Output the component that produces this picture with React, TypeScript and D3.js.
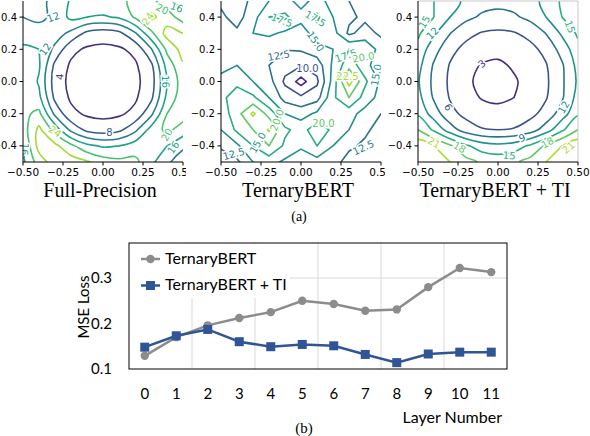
import React from 'react';
import * as d3 from 'd3';

// ---- (b) line chart data ----
const layers = [0, 1, 2, 3, 4, 5, 6, 7, 8, 9, 10, 11];
const ternaryBert = [0.129, 0.17, 0.196, 0.212, 0.225, 0.25, 0.243, 0.228, 0.231, 0.28, 0.322, 0.313];
const ternaryBertTI = [0.148, 0.173, 0.187, 0.16, 0.149, 0.154, 0.151, 0.132, 0.114, 0.133, 0.137, 0.137];
const lossTicks = [0.1, 0.2, 0.3];
const lossGrid = [0.3];
const layerGrid = [1.5, 3.5, 5.5, 7.5, 9.5];

// ---- (a) loss surfaces, rows from y=0.5 (top) to y=-0.5, cols x=-0.5..0.5 ----
const surfaceTicks = [-0.5, -0.25, 0, 0.25, 0.5];
const surfaceYTicks = [-0.4, -0.2, 0, 0.2, 0.4];

const fullPrecision = [
  [10, 11, 13, 16.5, 18.5, 19.5, 19.5, 20.5, 21, 18, 13],
  [12, 11, 13, 17, 16, 15.5, 16.5, 20.5, 25, 22, 18],
  [13.5, 14, 14, 11, 7, 6, 7, 11.5, 19, 25.5, 24],
  [17, 16, 11, 5, 3.4, 3, 3.4, 5, 11.5, 21, 25.5],
  [19, 16.5, 7, 3.4, 2.3, 2, 2.3, 3.4, 7, 17.5, 23.5],
  [20, 15.5, 6, 3, 2, 1.5, 2, 3, 6, 16, 22],
  [19.5, 17, 7, 3.4, 2.3, 2, 2.3, 3.4, 7, 17, 22.5],
  [19, 21, 11, 5, 3.4, 3, 3.4, 5, 11, 20, 22],
  [18, 25, 18.5, 11, 7, 6, 7, 11, 17.5, 21, 18],
  [16, 25.5, 25, 21, 17, 15.5, 16, 18, 19, 16, 13],
  [15, 22, 26, 26, 24.5, 22, 21, 21, 17, 13, 9],
];
const fullLevels = [4, 8, 12, 16, 20, 24];

const ternary = [
  [12, 11.5, 13, 15, 16, 14, 16, 14, 12.5, 11, 10],
  [13, 11.5, 14, 17.5, 18, 16, 18, 15, 13, 12, 11],
  [13.5, 13, 15, 15.5, 14.5, 13.5, 16.5, 16, 12, 13.5, 12],
  [14, 14.5, 14, 13, 12.6, 12.8, 14, 15, 17.5, 17, 14],
  [14, 15, 13.5, 12.5, 11, 10.2, 11, 15.5, 19, 16, 13],
  [16, 17, 15, 13.5, 9.5, 6.5, 9.5, 16, 23.5, 18, 14.5],
  [17, 18.5, 18, 15, 11.5, 10.5, 11.5, 17, 20, 16.5, 14],
  [16, 19, 23, 19, 15, 14, 15.5, 17, 16, 14, 12.5],
  [15, 18, 20, 22.8, 18, 16.5, 19, 17, 15, 13, 11.5],
  [13, 14.5, 17.5, 20, 17, 15.5, 17.5, 15, 13, 12, 11],
  [10.5, 12, 15, 16, 14.5, 13, 14, 13.5, 11.5, 10.5, 10],
];
const ternaryLevels = [7.5, 10, 12.5, 15, 17.5, 20, 22.5];

const ternaryTI = [
  [17, 15, 13, 11.5, 10.3, 10, 10.3, 11.3, 12.5, 15.5, 17],
  [17, 15, 12, 9.8, 8.5, 8, 8.5, 9.8, 12, 15, 17],
  [15.5, 12.5, 9.1, 6.8, 5.8, 5.5, 5.8, 6.8, 9.1, 12.5, 15.5],
  [14, 10.2, 6.8, 5.2, 4.3, 4, 4.3, 5.2, 6.8, 10.2, 14],
  [13, 8.6, 5.8, 3.9, 2.8, 2.4, 3.4, 4.3, 5.8, 8.6, 13],
  [12.3, 8.2, 5.5, 3.6, 2.2, 1.5, 2.6, 4.2, 5.5, 8.5, 12.5],
  [13, 8.6, 5.8, 4, 2.8, 2.4, 3, 4.3, 5.8, 8.6, 13.2],
  [14.5, 10.5, 6.9, 5.2, 4.3, 4, 4.3, 5.2, 7, 10.5, 14.5],
  [18, 14.5, 10.5, 7.5, 6.2, 6, 6.2, 7.5, 10.5, 14.5, 18],
  [23, 21, 18.5, 15.5, 13.5, 12.8, 13.5, 15.5, 18.5, 21, 23],
  [25, 23, 21, 19, 17.5, 17, 17.5, 19, 21, 23, 25],
];
const tiLevels = [3, 6, 9, 12, 15, 18, 21];

// inline contour labels: position in data units, level, rotation
const fullLabels = [
  { x: -0.27, y: 0.03, v: 4, a: -85 },
  { x: 0.04, y: -0.315, v: 8, a: 0 },
  { x: -0.36, y: 0.2, v: 12, a: -55 },
  { x: -0.31, y: 0.4, v: 12, a: -20 },
  { x: 0.39, y: 0.0, v: 16, a: 88 },
  { x: 0.4, y: -0.33, v: 20, a: -60 },
  { x: 0.44, y: -0.41, v: 16, a: -55 },
  { x: -0.3, y: -0.31, v: 24, a: 35 },
  { x: 0.28, y: 0.39, v: 24, a: -55 },
  { x: 0.37, y: 0.45, v: 20, a: 25 },
  { x: 0.46, y: 0.46, v: 16, a: 20 },
  { x: -0.49, y: -0.42, v: 16, a: 95 },
];
const ternaryLabels = [
  { x: 0.04, y: 0.08, v: 10, a: 0 },
  { x: -0.14, y: 0.16, v: 12.5, a: -10 },
  { x: -0.12, y: 0.38, v: 17.5, a: 20 },
  { x: 0.09, y: 0.39, v: 17.5, a: 30 },
  { x: 0.09, y: 0.25, v: 15, a: 55 },
  { x: 0.28, y: 0.16, v: 17.5, a: -20 },
  { x: 0.39, y: 0.15, v: 20, a: -10 },
  { x: 0.29, y: 0.03, v: 22.5, a: 0 },
  { x: 0.47, y: 0.04, v: 15, a: -80 },
  { x: -0.15, y: -0.24, v: 20, a: -70 },
  { x: 0.14, y: -0.26, v: 20, a: 0 },
  { x: -0.27, y: -0.38, v: 15, a: -60 },
  { x: -0.42, y: -0.45, v: 12.5, a: -15 },
  { x: 0.39, y: -0.41, v: 12.5, a: -25 },
];
const tiLabels = [
  { x: -0.1, y: 0.11, v: 3, a: -40 },
  { x: -0.31, y: -0.16, v: 6, a: 60 },
  { x: 0.15, y: -0.35, v: 9, a: -20 },
  { x: -0.41, y: 0.3, v: 12, a: -45 },
  { x: 0.41, y: -0.16, v: 12, a: -60 },
  { x: -0.46, y: 0.37, v: 15, a: -60 },
  { x: 0.45, y: 0.34, v: 15, a: 70 },
  { x: 0.07, y: -0.46, v: 15, a: 5 },
  { x: -0.24, y: -0.41, v: 18, a: 30 },
  { x: 0.31, y: -0.38, v: 18, a: -30 },
  { x: -0.4, y: -0.38, v: 21, a: 30 },
  { x: 0.44, y: -0.41, v: 21, a: -40 },
];

const TICK_FONT = 'DejaVu Sans';

function ContourPanel({ id, left, clipLeft, clipRight, grid, levels, cmin, cmax, labels, fmt, smooth, title, frame }: any) {
  const top = 1;
  const bottom = 162;
  const right = left + 160;
  const n = grid[0].length;
  const m = grid.length;
  const x = d3.scaleLinear().domain([-0.5, 0.5]).range([left, right]);
  const y = d3.scaleLinear().domain([-0.5, 0.5]).range([bottom, top]);
  // contour grid coordinate -> data
  const gx = d3.scaleLinear().domain([0.5, n - 0.5]).range([-0.5, 0.5]);
  const gy = d3.scaleLinear().domain([0.5, m - 0.5]).range([0.5, -0.5]);
  const color = (v: number) => d3.interpolateViridis((v - cmin) / (cmax - cmin));
  const contours = d3.contours().size([n, m]).thresholds(levels)(grid.flat());
  const line = d3
    .line<number[]>()
    .x((p) => x(gx(p[0])))
    .y((p) => y(gy(p[1])))
    .curve(smooth ? d3.curveCatmullRomClosed : d3.curveLinearClosed);
  const xf = d3.format('.2f');
  const yf = d3.format('.1f');
  const lf = d3.format(fmt);

  return (
    <g clipPath={`url(#${id}-img)`}>
      <defs>
        <clipPath id={`${id}-img`}>
          <rect x={clipLeft} y={0} width={clipRight - clipLeft} height={240} />
        </clipPath>
        <clipPath id={`${id}-ax`}>
          <rect x={left} y={top} width={right - left} height={bottom - top} />
        </clipPath>
      </defs>
      <g clipPath={`url(#${id}-ax)`}>
        {contours.map((c: any) =>
          c.coordinates.map((poly: any, i: number) =>
            poly.map((ring: any, j: number) => (
              <path
                key={`${c.value}-${i}-${j}`}
                d={line(ring.slice(0, -1)) || ''}
                fill="none"
                stroke={color(c.value)}
                strokeWidth={1.6}
                strokeLinejoin="round"
              />
            ))
          )
        )}
        {labels.map((l: any, i: number) => (
          <text
            key={i}
            transform={`translate(${x(l.x)},${y(l.y)}) rotate(${l.a})`}
            textAnchor="middle"
            dominantBaseline="central"
            fontFamily={TICK_FONT}
            fontSize={10}
            fill={color(l.v)}
            stroke="#fff"
            strokeWidth={3}
            paintOrder="stroke"
          >
            {lf(l.v)}
          </text>
        ))}
      </g>
      {frame && (
        <path d={`M${left},${top}H${right}V${bottom}`} fill="none" stroke="#c8c8c8" strokeWidth={1} />
      )}
      <line x1={left} x2={left} y1={top} y2={bottom} stroke="#000" strokeWidth={1} />
      <line x1={left} x2={right} y1={bottom} y2={bottom} stroke="#000" strokeWidth={1} />
      {surfaceTicks.map((t) => (
        <g key={`x${t}`}>
          <line x1={x(t)} x2={x(t)} y1={bottom} y2={bottom + 3.5} stroke="#000" />
          <text x={x(t)} y={bottom + 14} textAnchor="middle" fontFamily={TICK_FONT} fontSize={10.5}>
            {xf(t)}
          </text>
        </g>
      ))}
      {surfaceYTicks.map((t) => (
        <g key={`y${t}`}>
          <line x1={left - 3.5} x2={left} y1={y(t)} y2={y(t)} stroke="#000" />
          <text x={left - 6} y={y(t)} dy="0.35em" textAnchor="end" fontFamily={TICK_FONT} fontSize={10}>
            {yf(t)}
          </text>
        </g>
      ))}
      <text x={(left + right) / 2 - 3} y={197} textAnchor="middle" fontFamily="Liberation Serif" fontSize={20}>
        {title}
      </text>
    </g>
  );
}

function LossChart() {
  const left = 129;
  const right = 507;
  const top = 243;
  const bottom = 369;
  const x = d3.scaleLinear().domain([-0.5, 11.5]).range([left, right]);
  const y = d3.scaleLinear().domain([0.1, 0.377]).range([bottom, top]);
  const font = 'Lato';
  const gray = '#8c8c8c';
  const blue = '#2f5597';
  const path = d3
    .line<number>()
    .x((_, i) => x(layers[i]))
    .y((d) => y(d));

  return (
    <g>
      {layerGrid.map((g) => (
        <line key={g} x1={x(g)} x2={x(g)} y1={top} y2={bottom} stroke="#d9d9d9" />
      ))}
      {lossGrid.map((g) => (
        <line key={g} x1={left} x2={right} y1={y(g)} y2={y(g)} stroke="#d9d9d9" />
      ))}
      <path d={path(ternaryBert) || ''} fill="none" stroke={gray} strokeWidth={2.5} />
      {ternaryBert.map((d, i) => (
        <circle key={i} cx={x(layers[i])} cy={y(d)} r={4.2} fill={gray} />
      ))}
      <path d={path(ternaryBertTI) || ''} fill="none" stroke={blue} strokeWidth={2.5} />
      {ternaryBertTI.map((d, i) => (
        <rect key={i} x={x(layers[i]) - 4.5} y={y(d) - 4.5} width={9} height={9} fill={blue} />
      ))}

      <rect x={left + 1} y={top + 1} width={160} height={54} fill="#fff" />
      <line x1={141} x2={160} y1={259} y2={259} stroke={gray} strokeWidth={2.5} />
      <circle cx={150.5} cy={259} r={4.2} fill={gray} />
      <text x={165} y={264} fontFamily={font} fontSize={16}>
        TernaryBERT
      </text>
      <line x1={141} x2={160} y1={285.5} y2={285.5} stroke={blue} strokeWidth={2.5} />
      <rect x={146} y={281} width={9} height={9} fill={blue} />
      <text x={165} y={290} fontFamily={font} fontSize={16}>
        TernaryBERT + TI
      </text>

      <rect x={left} y={top} width={right - left} height={bottom - top} fill="none" stroke="#000" strokeWidth={1} />

      {lossTicks.map((t) => (
        <text key={t} x={112} y={y(t)} dy="0.35em" textAnchor="end" fontFamily={font} fontSize={15}>
          {d3.format('.1f')(t)}
        </text>
      ))}
      {layers.map((l) => (
        <text key={l} x={x(l)} y={399} textAnchor="middle" fontFamily={font} fontSize={15}>
          {l}
        </text>
      ))}
      <text transform="translate(89,307) rotate(-90)" textAnchor="middle" fontFamily={font} fontSize={15}>
        MSE Loss
      </text>
      <text x={502} y={423} textAnchor="end" fontFamily={font} fontSize={16}>
        Layer Number
      </text>
    </g>
  );
}

export default function App() {
  return (
    <div style={{ position: 'absolute', left: 0, top: 0 }}>
      <svg width={590} height={436} style={{ display: 'block', background: '#fff' }}>
        <ContourPanel
          id="fp"
          left={23}
          clipLeft={0}
          clipRight={186}
          grid={fullPrecision}
          levels={fullLevels}
          cmin={0}
          cmax={28}
          labels={fullLabels}
          fmt="d"
          smooth={true}
          title="Full-Precision"
          frame={false}
        />
        <ContourPanel
          id="tb"
          left={221}
          clipLeft={191}
          clipRight={385}
          grid={ternary}
          levels={ternaryLevels}
          cmin={5}
          cmax={25}
          labels={ternaryLabels}
          fmt=".1f"
          smooth={false}
          title="TernaryBERT"
          frame={false}
        />
        <ContourPanel
          id="ti"
          left={418}
          clipLeft={388}
          clipRight={590}
          grid={ternaryTI}
          levels={tiLevels}
          cmin={0}
          cmax={24}
          labels={tiLabels}
          fmt="d"
          smooth={true}
          title="TernaryBERT + TI"
          frame={true}
        />
        <text x={299} y={221} textAnchor="middle" fontFamily="Liberation Serif" fontSize={14}>
          (a)
        </text>
        <LossChart />
        <text x={304} y={433} textAnchor="middle" fontFamily="Liberation Serif" fontSize={15}>
          (b)
        </text>
      </svg>
    </div>
  );
}
